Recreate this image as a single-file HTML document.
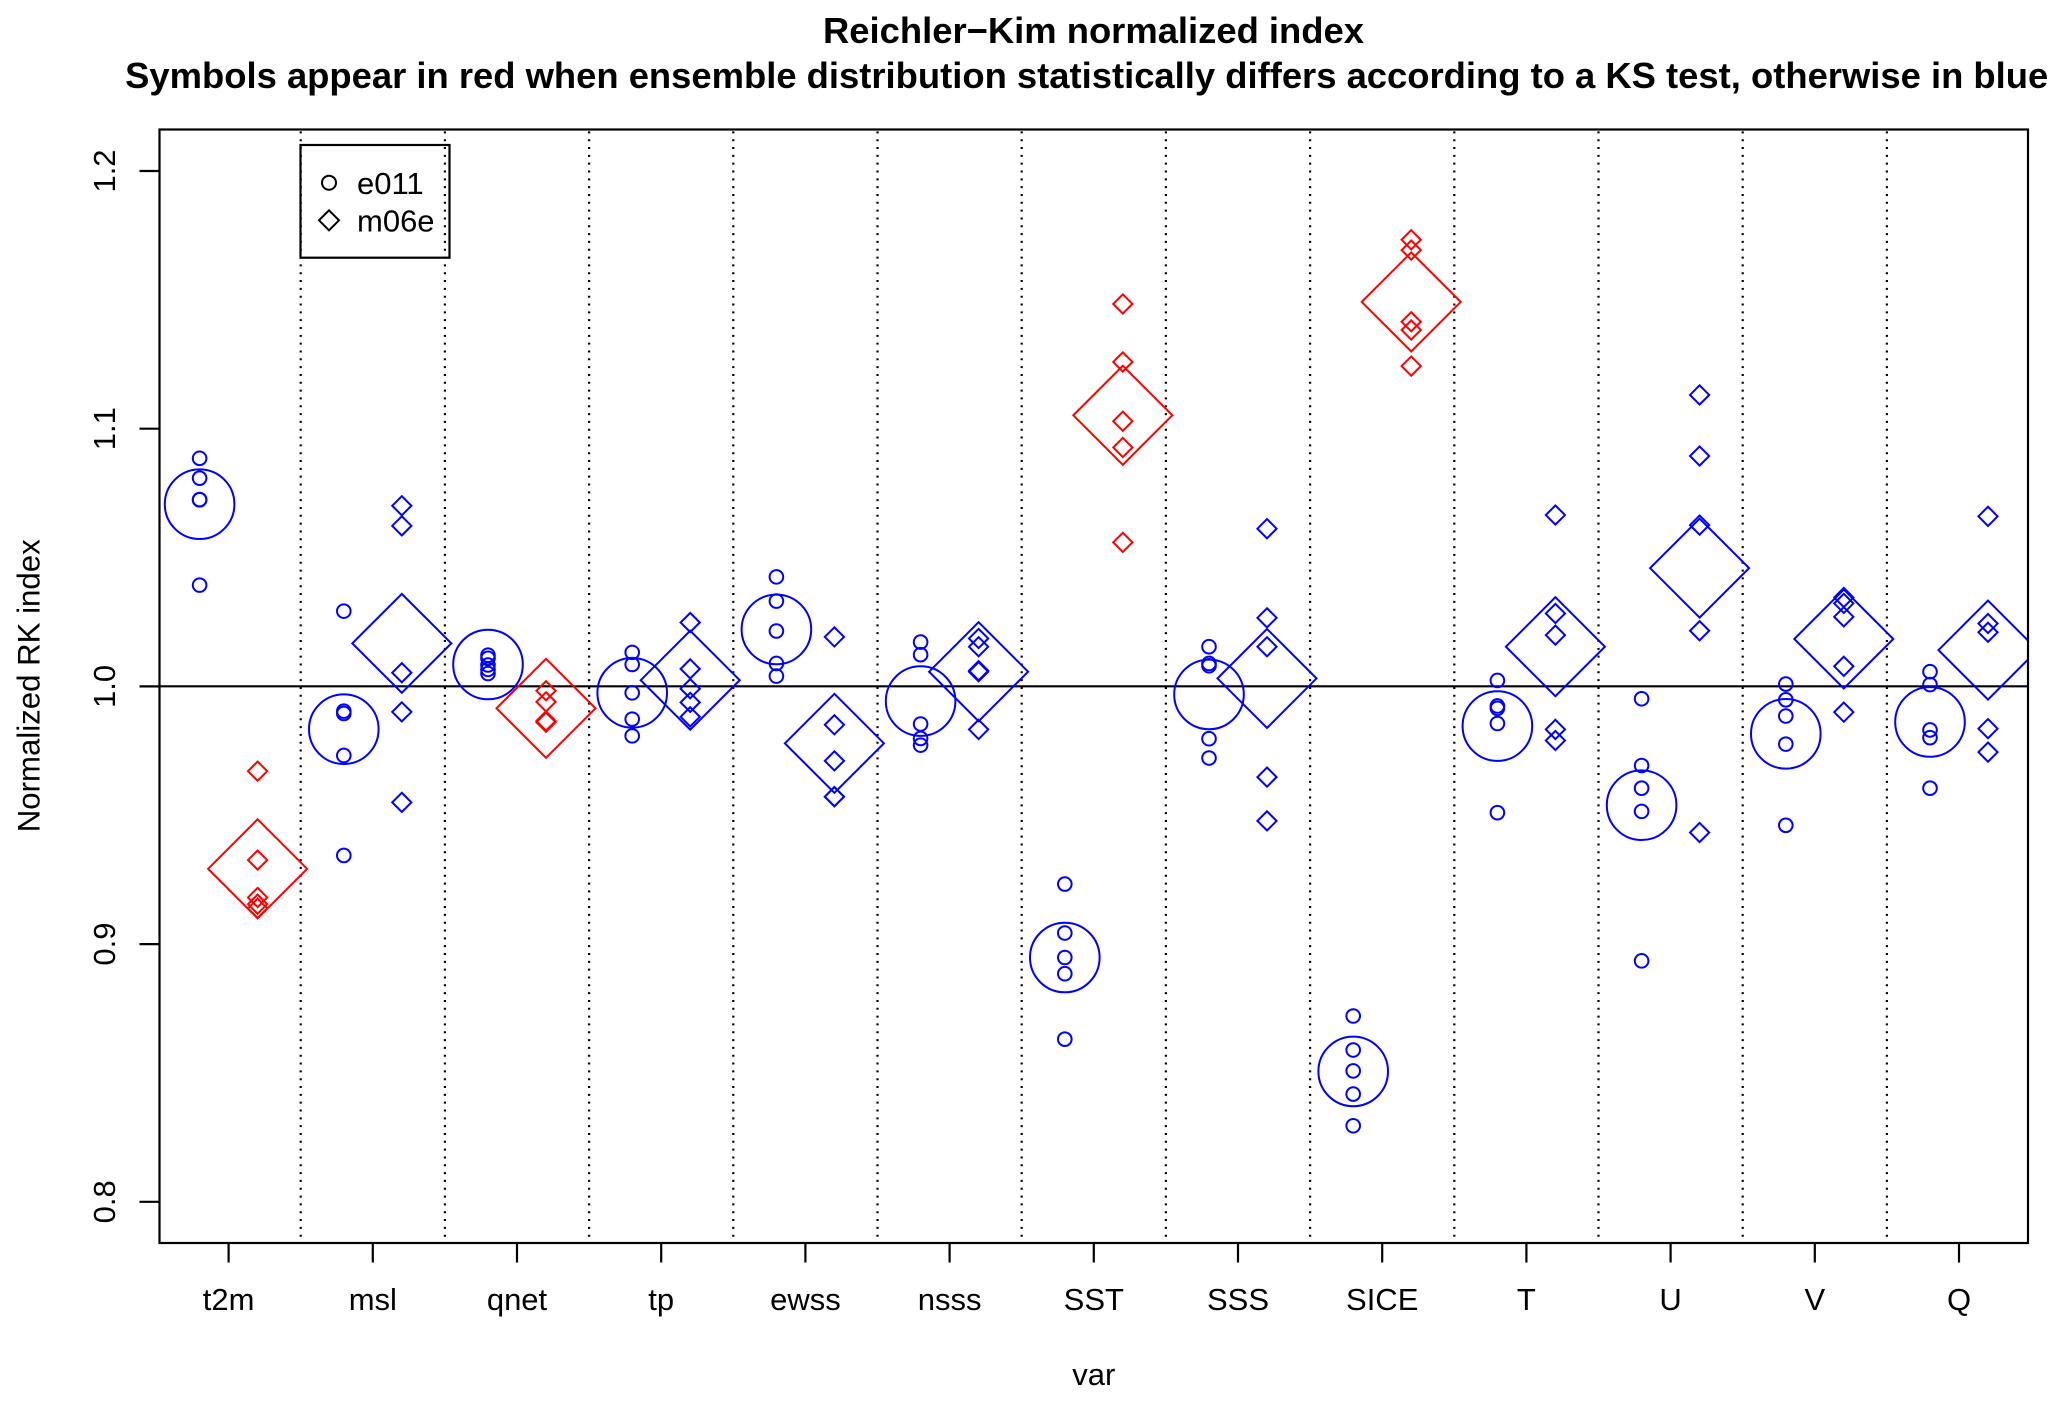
<!DOCTYPE html>
<html lang="en">
<head>
<meta charset="utf-8">
<title>Reichler-Kim normalized index</title>
<style>
html,body{margin:0;padding:0;background:#fff;}
svg{display:block;}
text{font-family:"Liberation Sans",Arial,sans-serif;fill:#000;}
</style>
</head>
<body>
<svg id="chart" xmlns="http://www.w3.org/2000/svg" width="2067" height="1404" viewBox="0 0 2067 1404">
  <defs>
    <clipPath id="plot-clip"><rect x="159.5" y="129.5" width="1868.5" height="1113.5"></rect></clipPath>
  </defs>
  <rect x="0" y="0" width="2067" height="1404" fill="#fff"></rect>
  <text x="1093.5" y="43" text-anchor="middle" font-size="36.4" font-weight="bold">Reichler−Kim normalized index</text>
  <text x="1086.7" y="88" text-anchor="middle" font-size="36.4" font-weight="bold">Symbols appear in red when ensemble distribution statistically differs according to a KS test, otherwise in blue</text>
  <text transform="translate(39.5,685.8) rotate(-90)" text-anchor="middle" font-size="31.2">Normalized RK index</text>
  <text x="1093.8" y="1385" text-anchor="middle" font-size="31">var</text>
  <g id="dividers"></g>
  <line x1="159.5" x2="2028" y1="686.3" y2="686.3" stroke="#000" stroke-width="2.2"></line>
  <g id="y-axis"></g>
  <g id="x-axis"></g>
  <g id="marks" clip-path="url(#plot-clip)"></g>
  <rect x="159.5" y="129.5" width="1868.5" height="1113.5" fill="none" stroke="#000" stroke-width="2.2"></rect>
  <g>
    <rect x="300.5" y="145" width="149" height="112.7" fill="none" stroke="#000" stroke-width="2.2"></rect>
    <g>
      <circle cx="329" cy="182.7" r="7" fill="none" stroke="#000" stroke-width="2"></circle>
      <text x="357" y="194" font-size="31">e011</text>
    </g>
    <g>
      <polygon points="329,210.3 339,220.3 329,230.3 319,220.3" fill="none" stroke="#000" stroke-width="2"></polygon>
      <text x="357" y="231.7" font-size="31">m06e</text>
    </g>
  </g>
</svg>
<script>
const categories = ["t2m","msl","qnet","tp","ewss","nsss","SST","SSS","SICE","T","U","V","Q"];
const yTickValues = [0.8, 0.9, 1.0, 1.1, 1.2];
const yTickLabels = ["0.8", "0.9", "1.0", "1.1", "1.2"];

const e011Members = [
  [1.0885,1.0808,1.0725,1.0724,1.0393],
  [1.0292,0.9904,0.9895,0.9732,0.9344],
  [1.0121,1.0109,1.0083,1.0066,1.0050],
  [1.0132,1.0085,0.9975,0.9873,0.9808],
  [1.0425,1.0331,1.0215,1.0089,1.0040],
  [1.0172,1.0123,0.9854,0.9798,0.9772],
  [0.9233,0.9043,0.8948,0.8885,0.8631],
  [1.0154,1.0089,1.0080,0.9797,0.9722],
  [0.8721,0.8589,0.8508,0.8418,0.8295],
  [1.0023,0.9924,0.9915,0.9856,0.9510],
  [0.9952,0.9693,0.9605,0.9515,0.8935],
  [1.0009,0.9948,0.9885,0.9776,0.9461],
  [1.0057,1.0007,0.9831,0.9801,0.9605]
];
const m06eMembers = [
  [0.9671,0.9326,0.9181,0.9155,0.9139],
  [1.0701,1.0623,1.0053,0.9901,0.9550],
  [0.9983,0.9940,0.9866,0.9861],
  [1.0248,1.0068,0.9991,0.9938,0.9882],
  [1.0192,0.9851,0.9711,0.9572,0.9572],
  [1.0186,1.0154,1.0061,1.0057,0.9833],
  [1.1484,1.1259,1.1029,1.0927,1.0559],
  [1.0612,1.0266,1.0154,0.9648,0.9478],
  [1.1733,1.1693,1.1415,1.1383,1.1243],
  [1.0665,1.0283,1.0199,0.9833,0.9790],
  [1.1131,1.0894,1.0626,1.0216,0.9433],
  [1.0345,1.0322,1.0270,1.0078,0.9900],
  [1.0660,1.0244,1.0210,0.9836,0.9745]
];
const e011Means = [1.0707,0.9834,1.0085,0.9975,1.0221,0.9943,0.8948,0.9969,0.8506,0.9846,0.9539,0.9816,0.9862];
const m06eMeans = [0.9292,1.0167,0.9915,1.0024,0.9779,1.0057,1.1052,1.0031,1.1492,1.0154,1.0459,1.0184,1.0141];
const e011Differs = [false,false,false,false,false,false,false,false,false,false,false,false,false];
const m06eDiffers = [true,false,true,false,false,false,true,false,true,false,false,false,false];

const SVG_NS = "http://www.w3.org/2000/svg";
const PLOT_BOTTOM = 1243;
const GROUP_OFFSET = 29;
const BLUE = "#0000ff";
const RED = "#ff0000";

function xScale(i) { return 228.6 + i * 144.2; }
function yScale(v) { return 171 + (1.2 - v) * 2577; }

function shape(tag, parent, attrs) {
  const el = document.createElementNS(SVG_NS, tag);
  for (const k in attrs) el.setAttribute(k, attrs[k]);
  parent.appendChild(el);
  return el;
}

const dividerGroup = document.getElementById("dividers");
const yAxisGroup = document.getElementById("y-axis");
const xAxisGroup = document.getElementById("x-axis");
const marksGroup = document.getElementById("marks");

categories.slice(0, -1).forEach(function (name, i) {
  const x = xScale(i + 0.5);
  const el = shape("line", dividerGroup, {x1: x, x2: x, y1: 1236.7, y2: 130.5, stroke: "#000", "stroke-width": 2.2, "stroke-dasharray": "2 5.825"});
  
  
});

yTickValues.forEach(function (v, i) {
  const y = yScale(v);
  const tick = shape("line", yAxisGroup, {x1: 139.5, x2: 159.5, y1: y, y2: y, stroke: "#000", "stroke-width": 2.2});
  
  
  const label = shape("text", yAxisGroup, {transform: "translate(114.8," + y + ") rotate(-90)", "text-anchor": "middle", "font-size": 31});
  
  
  label.textContent = yTickLabels[i];
});

categories.forEach(function (name, i) {
  const x = xScale(i);
  const tick = shape("line", xAxisGroup, {x1: x, x2: x, y1: PLOT_BOTTOM, y2: 1262.5, stroke: "#000", "stroke-width": 2.2});
  
  
  const label = shape("text", xAxisGroup, {x: x, y: 1310, "text-anchor": "middle", "font-size": 31});
  
  
  label.textContent = name;
});

function drawCircle(cx, cy, r, color, sw) {
  return shape("circle", marksGroup, {cx: cx, cy: cy, r: r, fill: "none", stroke: color, "stroke-width": sw});
}
function drawDiamond(cx, cy, h, color, sw) {
  const pts = [cx + "," + (cy - h), (cx + h) + "," + cy, cx + "," + (cy + h), (cx - h) + "," + cy].join(" ");
  return shape("polygon", marksGroup, {points: pts, fill: "none", stroke: color, "stroke-width": sw});
}

categories.forEach(function (name, i) {
  const xLeft = xScale(i) - GROUP_OFFSET;
  const xRight = xScale(i) + GROUP_OFFSET;
  const leftColor = e011Differs[i] ? RED : BLUE;
  const rightColor = m06eDiffers[i] ? RED : BLUE;

  e011Members[i].forEach(function (v) {
    const m = drawCircle(xLeft, yScale(v), 6.8, leftColor, 2);
    
    
  });
  const meanL = drawCircle(xLeft, yScale(e011Means[i]), 34.8, leftColor, 2);
  
  

  m06eMembers[i].forEach(function (v) {
    const m = drawDiamond(xRight, yScale(v), 9.6, rightColor, 2);
    
    
  });
  const meanR = drawDiamond(xRight, yScale(m06eMeans[i]), 49.5, rightColor, 2);
  
  
});
</script>
</body>
</html>
